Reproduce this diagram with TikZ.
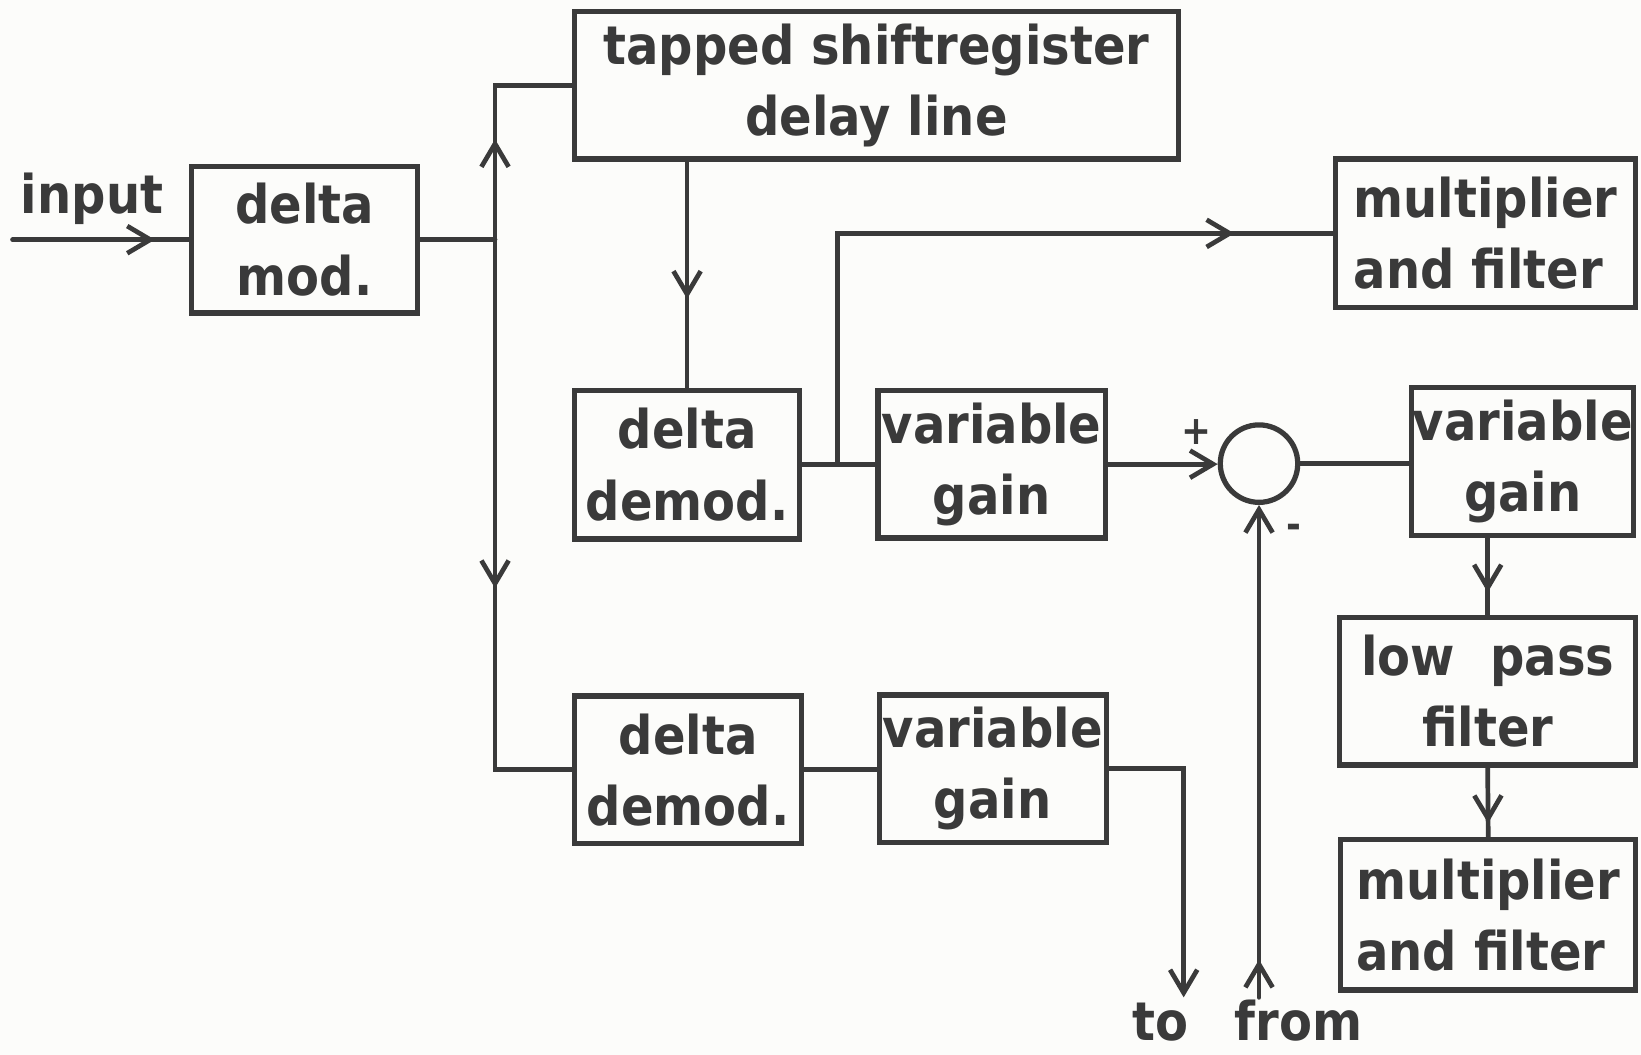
\documentclass[tikz,border=0pt]{standalone}
\usepackage{fontspec}
\newfontfamily\lab[FakeStretch=0.9]{DejaVu Sans}
\usetikzlibrary{arrows.meta,decorations.markings,calc}
\definecolor{ink}{HTML}{3A3A3A}
\definecolor{paper}{HTML}{FCFCFA}
\tikzset{
  >={Straight Barb[length=22pt,width=26pt]},
  blk/.style={draw=ink, line width=5pt, text=ink, inner sep=0pt, align=center,
    font=\lab\bfseries\fontsize{51}{68}\selectfont},
  lbl/.style={text=ink, inner sep=0pt, font=\lab\bfseries\fontsize{51}{68}\selectfont},
  sgn/.style={text=ink, inner sep=0pt, font=\lab\bfseries\fontsize{38}{38}\selectfont},
  wire/.style={draw=ink, line width=4.5pt, line cap=round},
  midarr/.style={postaction={decorate},
    decoration={markings, mark=at position #1 with {\arrow{>}}}},
}
\begin{document}
\begin{tikzpicture}[x=1pt,y=-1pt]
  \fill[paper] (0,0) rectangle (1568,1008);
  \useasboundingbox (0,0) rectangle (1568,1008);

  % blocks
  \node[blk, minimum width=216pt, minimum height=140pt] (dmod) at (291,229) {delta\\mod.};
  \node[blk, minimum width=577pt, minimum height=141pt] (tsr) at (837.5,81.5) {tapped shiftregister\\delay line};
  \node[blk, minimum width=215pt, minimum height=142pt] (dd1) at (656.5,444) {delta\\demod.};
  \node[blk, minimum width=217pt, minimum height=141pt] (vg1) at (947.5,443.5) {variable\\gain};
  \node[blk, minimum width=287pt, minimum height=142pt, align=left] (mf1) at (1419.5,223) {multiplier\\and filter};
  \node[draw=ink, line width=5pt, circle, minimum size=74pt, inner sep=0pt] (sum) at (1203,443) {};
  \node[blk, minimum width=212pt, minimum height=141pt] (vg2) at (1455,441) {variable\\gain};
  \node[blk, minimum width=283pt, minimum height=141pt] (lpf) at (1421.5,660.5) {low\hspace{18pt} pass\\filter};
  \node[blk, minimum width=282pt, minimum height=144pt, align=left] (mf2) at (1422,874) {multiplier\\and filter};
  \node[blk, minimum width=217pt, minimum height=141pt] (dd2) at (657.5,735.5) {delta\\demod.};
  \node[blk, minimum width=217pt, minimum height=141pt] (vg3) at (948.5,734.5) {variable\\gain};

  % labels
  \node[lbl] (inp) at (88,190) {input};
  \node[lbl, anchor=base] (to) at (1109,994) {to};
  \node[lbl, anchor=base] (from) at (1241,994) {from};
  \node[sgn] (plus) at (1143,413) {+};
  \node[sgn] (minus) at (1236,508) {-};

  % free ends and junctions
  \coordinate (src) at (12,229);
  \coordinate (jn) at (473,229);
  \coordinate (br) at ($(dd1.east)!0.48!(vg1.west)$);
  \coordinate (toend) at (1131,953);
  \coordinate (fromend) at (1203,953);

  % connectors
  \draw[wire, midarr=136pt] (src) -- (dmod.west);
  \draw[wire] (dmod.east) -- (jn);
  \draw[wire, midarr=96pt] (jn) |- (tsr.west);
  \draw[wire, midarr=333pt] (jn) |- (dd2.west);
  \draw[wire, midarr=131pt] (tsr.south -| dd1.north) -- (dd1.north);
  \draw[wire] (dd1.east) -- (dd1.east -| vg1.west);
  \draw[wire, midarr=600pt] (br) |- (mf1.west);
  \draw[wire, ->] (vg1.east) -- (vg1.east -| sum.west);
  \draw[wire] (sum.east) -- (sum.east -| vg2.west);
  \draw[wire, ->, midarr=36pt] (fromend) -- (sum.south);
  \draw[wire, midarr=52pt] (vg2.south -| lpf.north) -- (lpf.north);
  \draw[wire, midarr=53pt] (lpf.south) -- (mf2.north);
  \draw[wire] (dd2.east) -- (dd2.east -| vg3.west);
  \draw[wire, ->] (vg3.east) -| (toend);
\end{tikzpicture}
\end{document}
